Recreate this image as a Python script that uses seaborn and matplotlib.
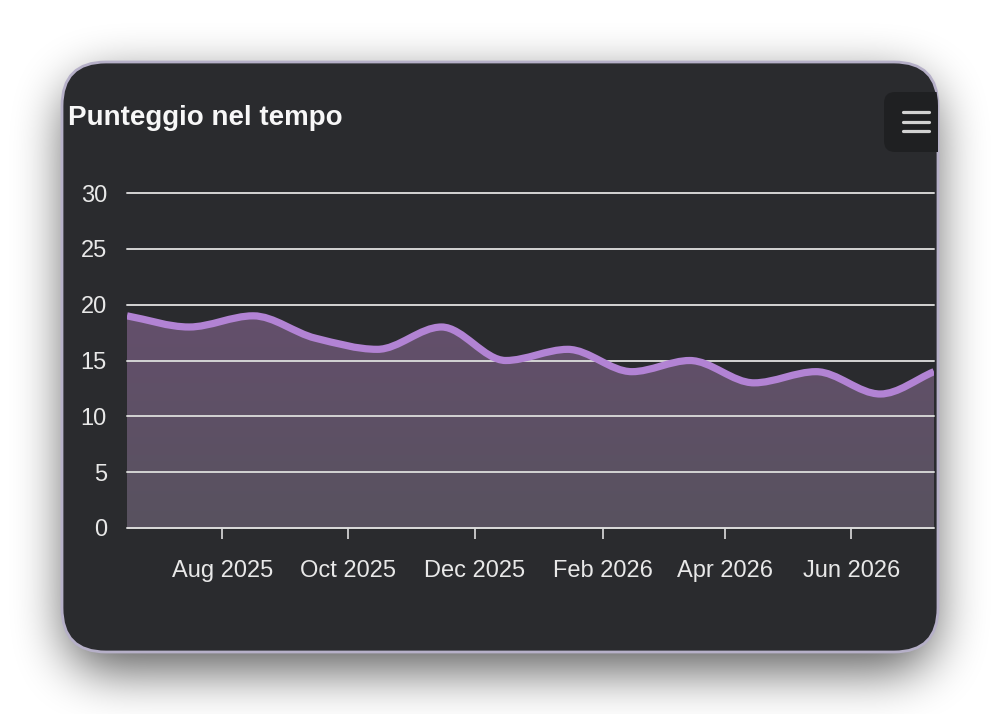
import numpy as np
import pandas as pd
import seaborn as sns
import matplotlib.pyplot as plt
import matplotlib.dates as mdates
from matplotlib.patches import FancyBboxPatch, PathPatch
from matplotlib.path import Path

# --- data ---
dates = pd.to_datetime([
    "2025-06-16", "2025-07-16", "2025-08-16", "2025-09-15", "2025-10-15",
    "2025-11-15", "2025-12-16", "2026-01-15", "2026-02-15", "2026-03-15",
    "2026-04-15", "2026-05-15", "2026-06-15", "2026-07-11",
])
scores = [19, 18, 19, 17, 16, 18, 15, 16, 14, 15, 13, 14, 12, 14]
y_ticks = [0, 5, 10, 15, 20, 25, 30]
title = "Punteggio nel tempo"

W, H = 1001, 714
BG_CARD = "#2a2b2e"
LINE_COLOR = "#b283d4"
TEXT_COLOR = "#e8e8e8"

sns.set_theme(style="dark", rc={"axes.facecolor": "none", "figure.facecolor": "white"})
plt.rcParams["font.family"] = ["Liberation Sans", "DejaVu Sans"]


def box_blur(a, r, passes=3):
    k = np.ones(2 * r + 1) / (2 * r + 1)
    for _ in range(passes):
        a = np.apply_along_axis(lambda v: np.convolve(v, k, mode="same"), 0, a)
        a = np.apply_along_axis(lambda v: np.convolve(v, k, mode="same"), 1, a)
    return a


def rounded_mask(x0, y0, x1, y1, r):
    X, Y = np.meshgrid(np.arange(W) + 0.5, np.arange(H) + 0.5)
    dx = np.maximum(np.maximum(x0 + r - X, 0), X - (x1 - r))
    dy = np.maximum(np.maximum(y0 + r - Y, 0), Y - (y1 - r))
    inside = (X >= x0) & (X <= x1) & (Y >= y0) & (Y <= y1)
    return (inside & (dx ** 2 + dy ** 2 <= r ** 2)).astype(float)


def smooth_path(x, y, close_to=None):
    # monotone cubic tangents -> bezier segments (drawn by matplotlib)
    x = np.asarray(x, float)
    y = np.asarray(y, float)
    h = np.diff(x)
    d = np.diff(y) / h
    m = np.zeros_like(y)
    m[0], m[-1] = d[0], d[-1]
    for i in range(1, len(y) - 1):
        if d[i - 1] * d[i] > 0:
            w1 = 2 * h[i] + h[i - 1]
            w2 = h[i] + 2 * h[i - 1]
            m[i] = (w1 + w2) / (w1 / d[i - 1] + w2 / d[i])
    verts = [(x[0], y[0])]
    codes = [Path.MOVETO]
    for i in range(len(h)):
        verts += [(x[i] + h[i] / 3, y[i] + m[i] * h[i] / 3),
                  (x[i + 1] - h[i] / 3, y[i + 1] - m[i + 1] * h[i] / 3),
                  (x[i + 1], y[i + 1])]
        codes += [Path.CURVE4] * 3
    if close_to is not None:
        verts += [(x[-1], close_to), (x[0], close_to), (x[0], y[0])]
        codes += [Path.LINETO, Path.LINETO, Path.CLOSEPOLY]
    return Path(verts, codes)


fig = plt.figure(figsize=(W / 100, H / 100), dpi=100)

# background layer in pixel coordinates
bg = fig.add_axes([0, 0, 1, 1])
bg.set_xlim(0, W)
bg.set_ylim(H, 0)
bg.axis("off")

card = (62, 62, 938, 652)
shadow = box_blur(rounded_mask(card[0] + 4, card[1] + 18, card[2] - 4, card[3] + 18, 42), 24)
rgba = np.zeros((H, W, 4))
rgba[..., 3] = shadow * 0.65
bg.imshow(rgba, extent=[0, W, H, 0], interpolation="bilinear", zorder=0)

card_patch = FancyBboxPatch((card[0], card[1]), card[2] - card[0], card[3] - card[1],
                            boxstyle="round,pad=0,rounding_size=44",
                            fc=BG_CARD, ec="#b6b0c8", lw=2, zorder=1)
bg.add_patch(card_patch)

menu = FancyBboxPatch((884, 92), 80, 60, boxstyle="round,pad=0,rounding_size=11",
                      fc="#1f2022", ec="none", zorder=2)
bg.add_patch(menu)
menu.set_clip_path(card_patch)
for yy in [112, 122, 131]:
    bg.plot([903, 929], [yy, yy], color="#d2d2d2", lw=2.3, solid_capstyle="round", zorder=3)

fig.text(68 / W, 1 - 118 / H, title, color="#f7f7f7", fontsize=20,
         fontweight="bold", ha="left", va="center")

# chart area
left, right, top, bottom = 127, 934, 193, 528
ax = fig.add_axes([left / W, 1 - bottom / H, (right - left) / W, (bottom - top) / H])
ax.set_facecolor("none")
for s in ax.spines.values():
    s.set_visible(False)

xn = mdates.date2num(dates)
ax.set_xlim(xn[0], xn[-1])
ax.set_ylim(0, 30)

# gradient fill under the curve
fill_path = smooth_path(xn, scores, close_to=0)
grad = np.linspace(0, 1, 256)[:, None]
c_top = np.array([0x64, 0x4f, 0x6c]) / 255
c_bot = np.array([0x58, 0x52, 0x5f]) / 255
img = c_bot[None, None, :] + (c_top - c_bot)[None, None, :] * grad[..., None]
img = np.repeat(img, 2, axis=1)
im = ax.imshow(img, extent=[xn[0], xn[-1], 0, max(scores) + 0.5], origin="lower",
               aspect="auto", zorder=1, interpolation="bilinear")
clip = PathPatch(fill_path, transform=ax.transData, fc="none", ec="none")
ax.add_patch(clip)
im.set_clip_path(clip)

for yv in y_ticks:
    ax.axhline(yv, color="#d4d4d4" if yv else "#dcdcdc", lw=1.4, zorder=2, clip_on=False)

line = PathPatch(smooth_path(xn, scores), fc="none", ec=LINE_COLOR, lw=5.2,
                 capstyle="butt", joinstyle="round", zorder=3)
ax.add_patch(line)

ax.set_yticks(y_ticks)
ax.set_yticklabels([str(v) for v in y_ticks])
ax.xaxis.set_major_locator(mdates.MonthLocator(bymonth=[2, 4, 6, 8, 10, 12]))
ax.xaxis.set_major_formatter(mdates.DateFormatter("%b %Y"))
ax.tick_params(axis="y", length=0, pad=14.5, labelsize=17, labelcolor=TEXT_COLOR)
ax.tick_params(axis="x", bottom=True, length=8, width=1.3, color="#d0d0d0",
               pad=15, labelsize=17, labelcolor=TEXT_COLOR)
ax.grid(False)

fig.savefig("out.png", dpi=100)
